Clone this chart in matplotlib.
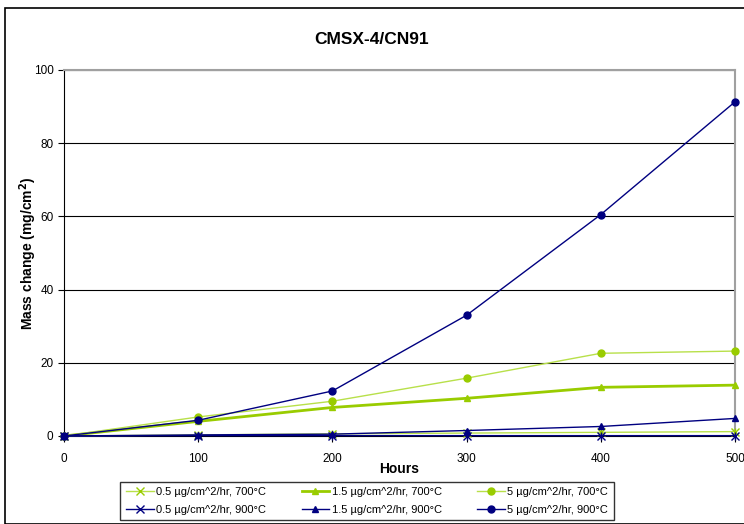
import matplotlib
matplotlib.use("Agg")
import matplotlib.pyplot as plt
from matplotlib.patches import Rectangle

plt.rcParams['font.family'] = ['Liberation Sans', 'DejaVu Sans']

hours = [0, 100, 200, 300, 400, 500]
s05_700 = [0, 0.3, 0.6, 0.8, 1.0, 1.2]
s15_700 = [0, 4.0, 7.8, 10.3, 13.3, 13.9]
s5_700 = [0, 5.2, 9.5, 15.8, 22.6, 23.2]
s05_900 = [0, 0.1, 0.1, 0.1, 0.1, 0.1]
s15_900 = [0, 0.3, 0.5, 1.5, 2.6, 4.8]
s5_900 = [0, 4.3, 12.3, 33.0, 60.5, 91.3]

labels = [
    "0.5 µg/cm^2/hr, 700°C", "1.5 µg/cm^2/hr, 700°C", "5 µg/cm^2/hr, 700°C",
    "0.5 µg/cm^2/hr, 900°C", "1.5 µg/cm^2/hr, 900°C", "5 µg/cm^2/hr, 900°C",
]

green = "#99CC00"
light_green = "#B8E04A"
navy = "#000080"

fig = plt.figure(figsize=(7.44, 5.24), dpi=100)
fig.patches.append(Rectangle((5 / 744, 0), 1.0, 1 - 8 / 524, transform=fig.transFigure,
                             fill=False, edgecolor="black", linewidth=1.2))
ax = fig.add_axes([64 / 744, 1 - 436 / 524, (735 - 64) / 744, (436 - 70) / 524])

series = [
    (s05_700, light_green, "x", 1.0, 6),
    (s15_700, green, "^", 2.0, 5),
    (s5_700, light_green, "o", 1.0, 5),
    (s05_900, navy, "x", 1.0, 6),
    (s15_900, navy, "^", 1.0, 5),
    (s5_900, navy, "o", 1.0, 5),
]
mfc = [green, green, green, navy, navy, navy]
handles = []
for (vals, col, mk, lw, ms), lab, fc in zip(series, labels, mfc):
    h, = ax.plot(hours, vals, color=col, linewidth=lw, marker=mk, markersize=ms,
                 markerfacecolor=fc, markeredgecolor=fc, label=lab, clip_on=False, zorder=3)
    if mk == "x":
        ax.plot(hours, vals, linestyle="none", marker="|", markersize=ms,
                color=fc, clip_on=False, zorder=3)
    handles.append(h)

ax.set_xlim(0, 500)
ax.set_ylim(0, 100)
ax.set_xticks(hours)
ax.set_yticks([0, 20, 40, 60, 80, 100])
ax.yaxis.grid(True, color="black", linewidth=0.8)
ax.set_axisbelow(True)
for side in ["top", "right"]:
    ax.spines[side].set_color("#A0A0A0")
    ax.spines[side].set_linewidth(1.5)
ax.spines["left"].set_color("black")
ax.spines["bottom"].set_color("black")
ax.tick_params(axis="both", labelsize=8.5, length=4, direction="out")
ax.tick_params(axis="x", pad=8)

ax.set_xlabel("Hours", fontsize=10, fontweight="bold", labelpad=-2)
ax.set_ylabel("Mass change (mg/cm$^{\\mathbf{2}}$)", fontsize=10, fontweight="bold", labelpad=-4)
fig.text(0.5, 1 - 40 / 524, "CMSX-4/CN91", ha="center", va="center",
         fontsize=12.5, fontweight="bold")

# legend fills column by column; reorder so rows read 700°C then 900°C
order = [0, 3, 1, 4, 2, 5]
leg = fig.legend(handles=[handles[i] for i in order], labels=[labels[i] for i in order],
                 ncol=3, loc="center",
                 bbox_to_anchor=(367 / 744, 1 - 501 / 524), fontsize=8,
                 frameon=True, fancybox=False, edgecolor="black",
                 handlelength=2.5, columnspacing=3.2, handletextpad=0.2,
                 borderpad=0.5, labelspacing=0.7, borderaxespad=0)
leg.get_frame().set_linewidth(1.0)

fig.savefig("out.png", dpi=100)
